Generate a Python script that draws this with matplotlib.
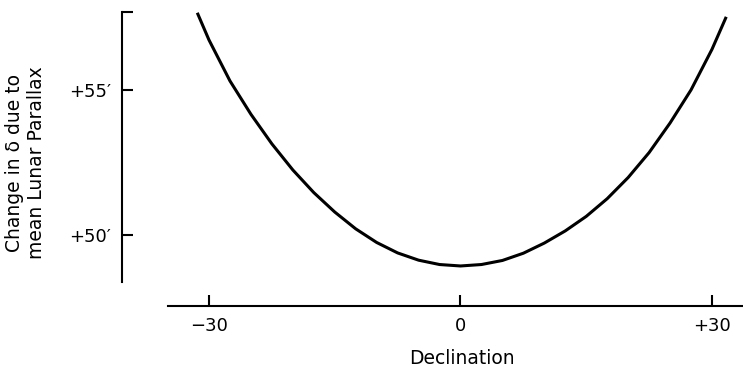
import matplotlib
matplotlib.use("Agg")
import matplotlib.pyplot as plt

# values (declination in deg, change in arcmin)
declination = [-31.4, -30, -27.5, -25, -22.5, -20, -17.5, -15, -12.5, -10, -7.5, -5, -2.5,
               0, 2.5, 5, 7.5, 10, 12.5, 15, 17.5, 20, 22.5, 25, 27.5, 30, 31.7]
change = [57.66, 56.72, 55.31, 54.16, 53.14, 52.24, 51.46, 50.79, 50.21, 49.74, 49.38, 49.13, 48.98,
          48.93, 48.98, 49.12, 49.37, 49.72, 50.14, 50.64, 51.25, 51.98, 52.84, 53.86, 55.00, 56.40, 57.52]

x_ticks = [-30, 0, 30]
x_tick_labels = ["\u221230", "0", "+30"]
y_ticks = [50, 55, 57.69]
y_tick_labels = ["+50\u2032", "+55\u2032", ""]

plt.rcParams['font.family'] = ['DejaVu Sans']

fig = plt.figure(figsize=(7.43, 3.68), dpi=100)
ax = fig.add_axes([122 / 743, 62 / 368, 621 / 743, 306 / 368])

ax.plot(declination, change, color='black', linewidth=2.2,
        solid_capstyle='butt', solid_joinstyle='round')

ax.set_xlim(-40.38, 33.7)
ax.set_ylim(47.55, 58.1)

for side in ['top', 'right']:
    ax.spines[side].set_visible(False)
ax.spines['left'].set_bounds(48.38, 57.69)
ax.spines['bottom'].set_bounds(-34.9, 33.7)
for side in ['left', 'bottom']:
    ax.spines[side].set_linewidth(1.5)

ax.set_xticks(x_ticks)
ax.set_xticklabels(x_tick_labels)
ax.set_yticks(y_ticks)
ax.set_yticklabels(y_tick_labels)
ax.tick_params(axis='both', direction='in', length=8, width=1.5, labelsize=13, pad=8)

ax.set_xlabel("Declination", fontsize=13.5, va='center')
ax.xaxis.set_label_coords(0.5475, -0.17)
ax.set_ylabel("Change in \u03b4 due to\nmean Lunar Parallax", fontsize=13.5,
              linespacing=1.2, va='center')
ax.yaxis.set_label_coords(-0.156, 0.467)

fig.savefig("out.png", dpi=100, facecolor='white')
